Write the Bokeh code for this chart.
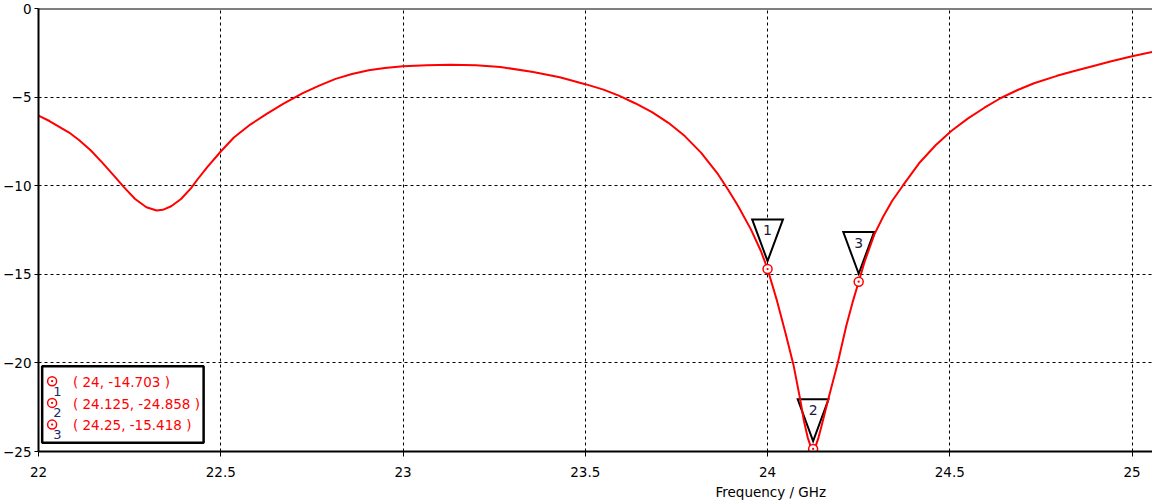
from bokeh.plotting import figure
from bokeh.models import Range1d, FixedTicker, Span, Title, NumeralTickFormatter
from bokeh.core.properties import value
from bokeh.embed import file_html
from bokeh.resources import INLINE

# ---------------- data ----------------
freq_ghz = [22.0, 22.03, 22.084, 22.111, 22.143, 22.175, 22.211, 22.233, 22.265, 22.296,
            22.324, 22.341, 22.364, 22.391, 22.418, 22.436, 22.463, 22.5, 22.536, 22.581,
            22.626, 22.671, 22.725, 22.77, 22.815, 22.86, 22.906, 22.95, 23.0, 23.065,
            23.13, 23.2, 23.267, 23.357, 23.43, 23.5, 23.55, 23.592, 23.638, 23.683,
            23.728, 23.773, 23.818, 23.864, 23.891, 23.918, 23.954, 23.982, 24.0, 24.026,
            24.049, 24.071, 24.089, 24.1, 24.11, 24.118, 24.125, 24.132, 24.14, 24.15,
            24.166, 24.192, 24.216, 24.233, 24.25, 24.266, 24.293, 24.317, 24.342, 24.371,
            24.415, 24.461, 24.504, 24.55, 24.595, 24.64, 24.686, 24.731, 24.794, 24.839,
            24.894, 24.943, 25.0, 25.056]
s11_db = [-6.05, -6.35, -7.0, -7.42, -8.0, -8.7, -9.53, -10.05, -10.75, -11.22,
          -11.40, -11.36, -11.16, -10.75, -10.15, -9.65, -8.95, -8.07, -7.28, -6.55,
          -5.95, -5.38, -4.78, -4.35, -3.97, -3.70, -3.49, -3.36, -3.26, -3.2,
          -3.17, -3.2, -3.30, -3.58, -3.88, -4.27, -4.58, -4.92, -5.36, -5.85,
          -6.45, -7.2, -8.15, -9.35, -10.2, -11.1, -12.45, -13.7, -14.70, -16.5,
          -18.3, -20.1, -22.0, -23.3, -24.2, -24.7, -24.86, -24.7, -24.2, -23.4,
          -22.1, -20.05, -17.9, -16.6, -15.42, -14.3, -12.75, -11.75, -10.85, -10.0,
          -8.75, -7.72, -6.91, -6.2, -5.6, -5.05, -4.6, -4.22, -3.8, -3.54,
          -3.24, -2.98, -2.7, -2.45]

marker_ids = ["1", "2", "3"]
marker_freq = [24.0, 24.125, 24.25]
marker_s11 = [-14.703, -24.858, -15.418]

x_ticks = [22, 22.5, 23, 23.5, 24, 24.5, 25]
y_ticks = [0, -5, -10, -15, -20, -25]
x_label = "Frequency / GHz"

# ---------------- layout ----------------
W, H = 1152, 504
BL, BR, BT, BB = 30, 0, 8, 53
PAGE_X, PAGE_Y = 8, 0          # where the figure's canvas sits in the photograph
X0, X1 = 22.0, 25.056
Y0, Y1 = -25.0, 0.0
FW = W - BL - BR
FH = H - BT - BB


def dx(px):
    return px * (X1 - X0) / FW


def dy(px):
    return px * (Y1 - Y0) / FH


def at_x(page_px):
    return X0 + dx(page_px - (PAGE_X + BL))


def at_y(page_py):
    return Y1 - dy(page_py - (PAGE_Y + BT))


FONT = value("DejaVu Sans")
FS = value("13.5px")

p = figure(width=W, height=H, x_range=Range1d(X0, X1), y_range=Range1d(Y0, Y1),
           output_backend="svg", toolbar_location=None,
           min_border_left=BL, min_border_right=BR, min_border_top=BT, min_border_bottom=BB)
p.outline_line_color = None
p.background_fill_color = "white"
p.border_fill_color = "white"

for ax, ticks in ((p.xaxis, x_ticks), (p.yaxis, y_ticks)):
    ax.ticker = FixedTicker(ticks=ticks)
    ax.axis_line_color = "black"
    ax.axis_line_width = 2
    ax.major_tick_line_color = "black"
    ax.major_tick_line_width = 1
    ax.major_tick_in = 0
    ax.minor_tick_line_color = None
    ax.major_label_text_font = "DejaVu Sans"
    ax.major_label_text_font_size = "13.5px"
    ax.major_label_text_color = "black"

p.xaxis.major_tick_out = 5
p.xaxis.major_label_standoff = 10
p.xaxis.formatter = NumeralTickFormatter(format="0.[0]")
p.yaxis.major_tick_out = 4
p.yaxis.major_label_standoff = 3

for g, ticks in ((p.xgrid, x_ticks), (p.ygrid, y_ticks)):
    g.ticker = FixedTicker(ticks=ticks)
    g.grid_line_color = "black"
    g.grid_line_dash = "3 3"
    g.grid_line_width = 1

p.add_layout(Span(location=Y1, dimension="width", line_color="black", line_width=2))

# marker flags (inverted triangles)
half_w = dx(15.5)
tri_xs = [[mx - half_w, mx + half_w, mx] for mx in marker_freq]
tri_ys = [[my + 2.8, my + 2.8, my + 0.45] for my in marker_s11]
p.patches(tri_xs, tri_ys, fill_color="white", line_color="black", line_width=2,
          line_join="miter")

# curve
p.line(freq_ghz, s11_db, line_color="#ff0000", line_width=2)

# markers on curve
p.scatter(marker_freq, marker_s11, marker="circle_dot", size=9, line_color="#ff0000",
          line_width=1.5, fill_color="white")

p.text(x=marker_freq, y=[my + 2.2 for my in marker_s11], text=marker_ids,
       text_align="center", text_baseline="middle", text_font=FONT,
       text_font_size=value("14px"), text_color="#1a1a40")

# legend box
step = 21.7
p.quad(left=[at_x(41.7)], right=[at_x(204.3)], top=[at_y(365.7)], bottom=[at_y(442.3)],
       fill_color="white", line_color="black", line_width=2.5)
p.scatter([at_x(51.7)] * 3, [at_y(380.7 + step * i) for i in range(3)], marker="circle_dot",
          size=9, line_color="#ff0000", line_width=1.5, fill_color="white")
p.text(x=[at_x(57)] * 3, y=[at_y(390.5 + step * i) for i in range(3)], text=marker_ids,
       text_align="center", text_baseline="middle", text_font=FONT,
       text_font_size=value("13px"), text_color="#1c2c66")
legend_txt = [f"( {mx:g}, {my:.3f} )" for mx, my in zip(marker_freq, marker_s11)]
p.text(x=[at_x(72.7)] * 3, y=[at_y(381.5 + step * i) for i in range(3)], text=legend_txt,
       text_align="left", text_baseline="middle", text_font=FONT, text_font_size=FS,
       text_color="#ff0000")

# axis label, placed right of centre as in the reference
p.add_layout(Title(text=x_label, align="left", offset=715 - (PAGE_X + BL), standoff=5,
                   text_font="DejaVu Sans", text_font_size="13.5px",
                   text_font_style="normal", text_color="black"), "below")

open("out.html", "w").write(file_html(p, INLINE))
